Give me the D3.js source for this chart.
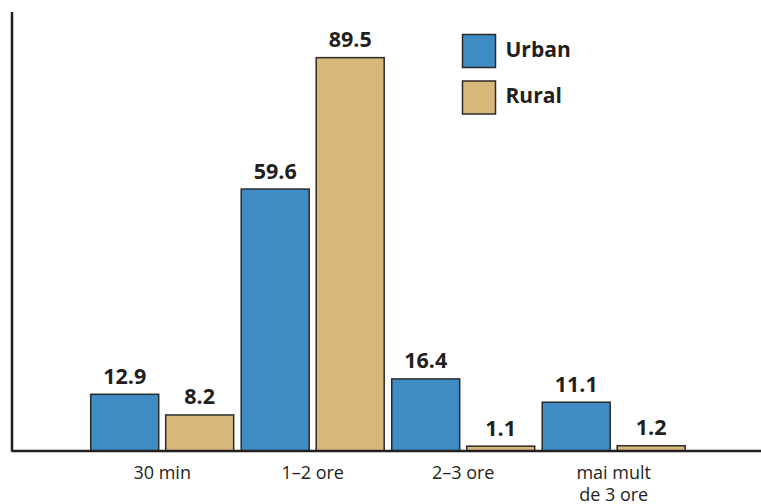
<!DOCTYPE html>
<html><head><meta charset="utf-8">
<script src="https://cdn.jsdelivr.net/npm/d3@7"></script>
<style>
html,body{margin:0;padding:0;background:#fff;}
svg{display:block;font-family:"Open Sans",sans-serif;}
</style></head>
<body><svg id="c" width="761" height="504"></svg>
<script>
const categories = ["30 min", "1–2 ore", "2–3 ore", "mai mult\nde 3 ore"];
const seriesNames = ["Urban", "Rural"];
const urban = [12.9, 59.6, 16.4, 11.1];
const rural = [8.2, 89.5, 1.1, 1.2];
const colors = ["#3f8bc4", "#d8b87a"];

const svg = d3.select("#c");
const W = 761, H = 504;
const axisX = 11.5, baseY = 451;
const y = d3.scaleLinear().domain([0, 100]).range([baseY, 11.5]);
const x0 = d3.scaleBand().domain(categories).range([86.95, 688.95]).paddingInner(0.05).paddingOuter(0.025);
const x1 = d3.scaleBand().domain(seriesNames).range([0, x0.bandwidth()]).paddingInner(0.0933);
const color = d3.scaleOrdinal().domain(seriesNames).range(colors);
const data = categories.map((c, i) => ({cat: c, vals: [{k: "Urban", v: urban[i]}, {k: "Rural", v: rural[i]}]}));

const g = svg.selectAll("g.grp").data(data).join("g").attr("class","grp")
  .attr("transform", d => `translate(${x0(d.cat)},0)`);
g.selectAll("rect").data(d => d.vals).join("rect")
  .attr("x", d => x1(d.k)).attr("width", x1.bandwidth())
  .attr("y", d => y(d.v)).attr("height", d => baseY - y(d.v))
  .attr("fill", d => color(d.k)).attr("stroke", "#2a2a2a").attr("stroke-width", 1.5);
g.selectAll("text.val").data(d => d.vals).join("text").attr("class","val")
  .attr("x", d => x1(d.k) + x1.bandwidth()/2).attr("y", d => y(d.v) - 10.5)
  .attr("text-anchor","middle").attr("font-weight","bold").attr("font-size", 21.5)
  .attr("fill","#231f20").text(d => d.v.toFixed(1));

// axes
svg.append("line").attr("x1", axisX).attr("x2", W).attr("y1", baseY).attr("y2", baseY)
  .attr("stroke","#231f20").attr("stroke-width",2.5);
const ya = svg.append("g").attr("transform", `translate(${axisX},0)`)
  .call(d3.axisLeft(y).tickValues([]).tickSizeOuter(0));
ya.select(".domain").attr("stroke","#231f20").attr("stroke-width",2.5);

// category labels
const cl = svg.selectAll("text.cat").data(categories).join("text").attr("class","cat")
  .attr("text-anchor","middle").attr("font-size", 18).attr("fill","#231f20")
  .attr("transform", d => `translate(${x0(d) + x0.bandwidth()/2},479)`);
cl.selectAll("tspan").data(d => d.split("\n")).join("tspan")
  .attr("x", 0).attr("dy", (d, i) => i === 0 ? 0 : 21.5).text(d => d);

// legend
const lg = svg.selectAll("g.leg").data(seriesNames).join("g").attr("class","leg")
  .attr("transform", (d, i) => `translate(462.5,${34.5 + i*46.5})`);
lg.append("rect").attr("width", 33).attr("height", 33)
  .attr("fill", d => color(d)).attr("stroke","#2a2a2a").attr("stroke-width",1.5);
lg.append("text").attr("x", 43).attr("y", 22).attr("font-size", 21).attr("font-weight","bold")
  .attr("fill","#231f20").text(d => d);
</script></body></html>
